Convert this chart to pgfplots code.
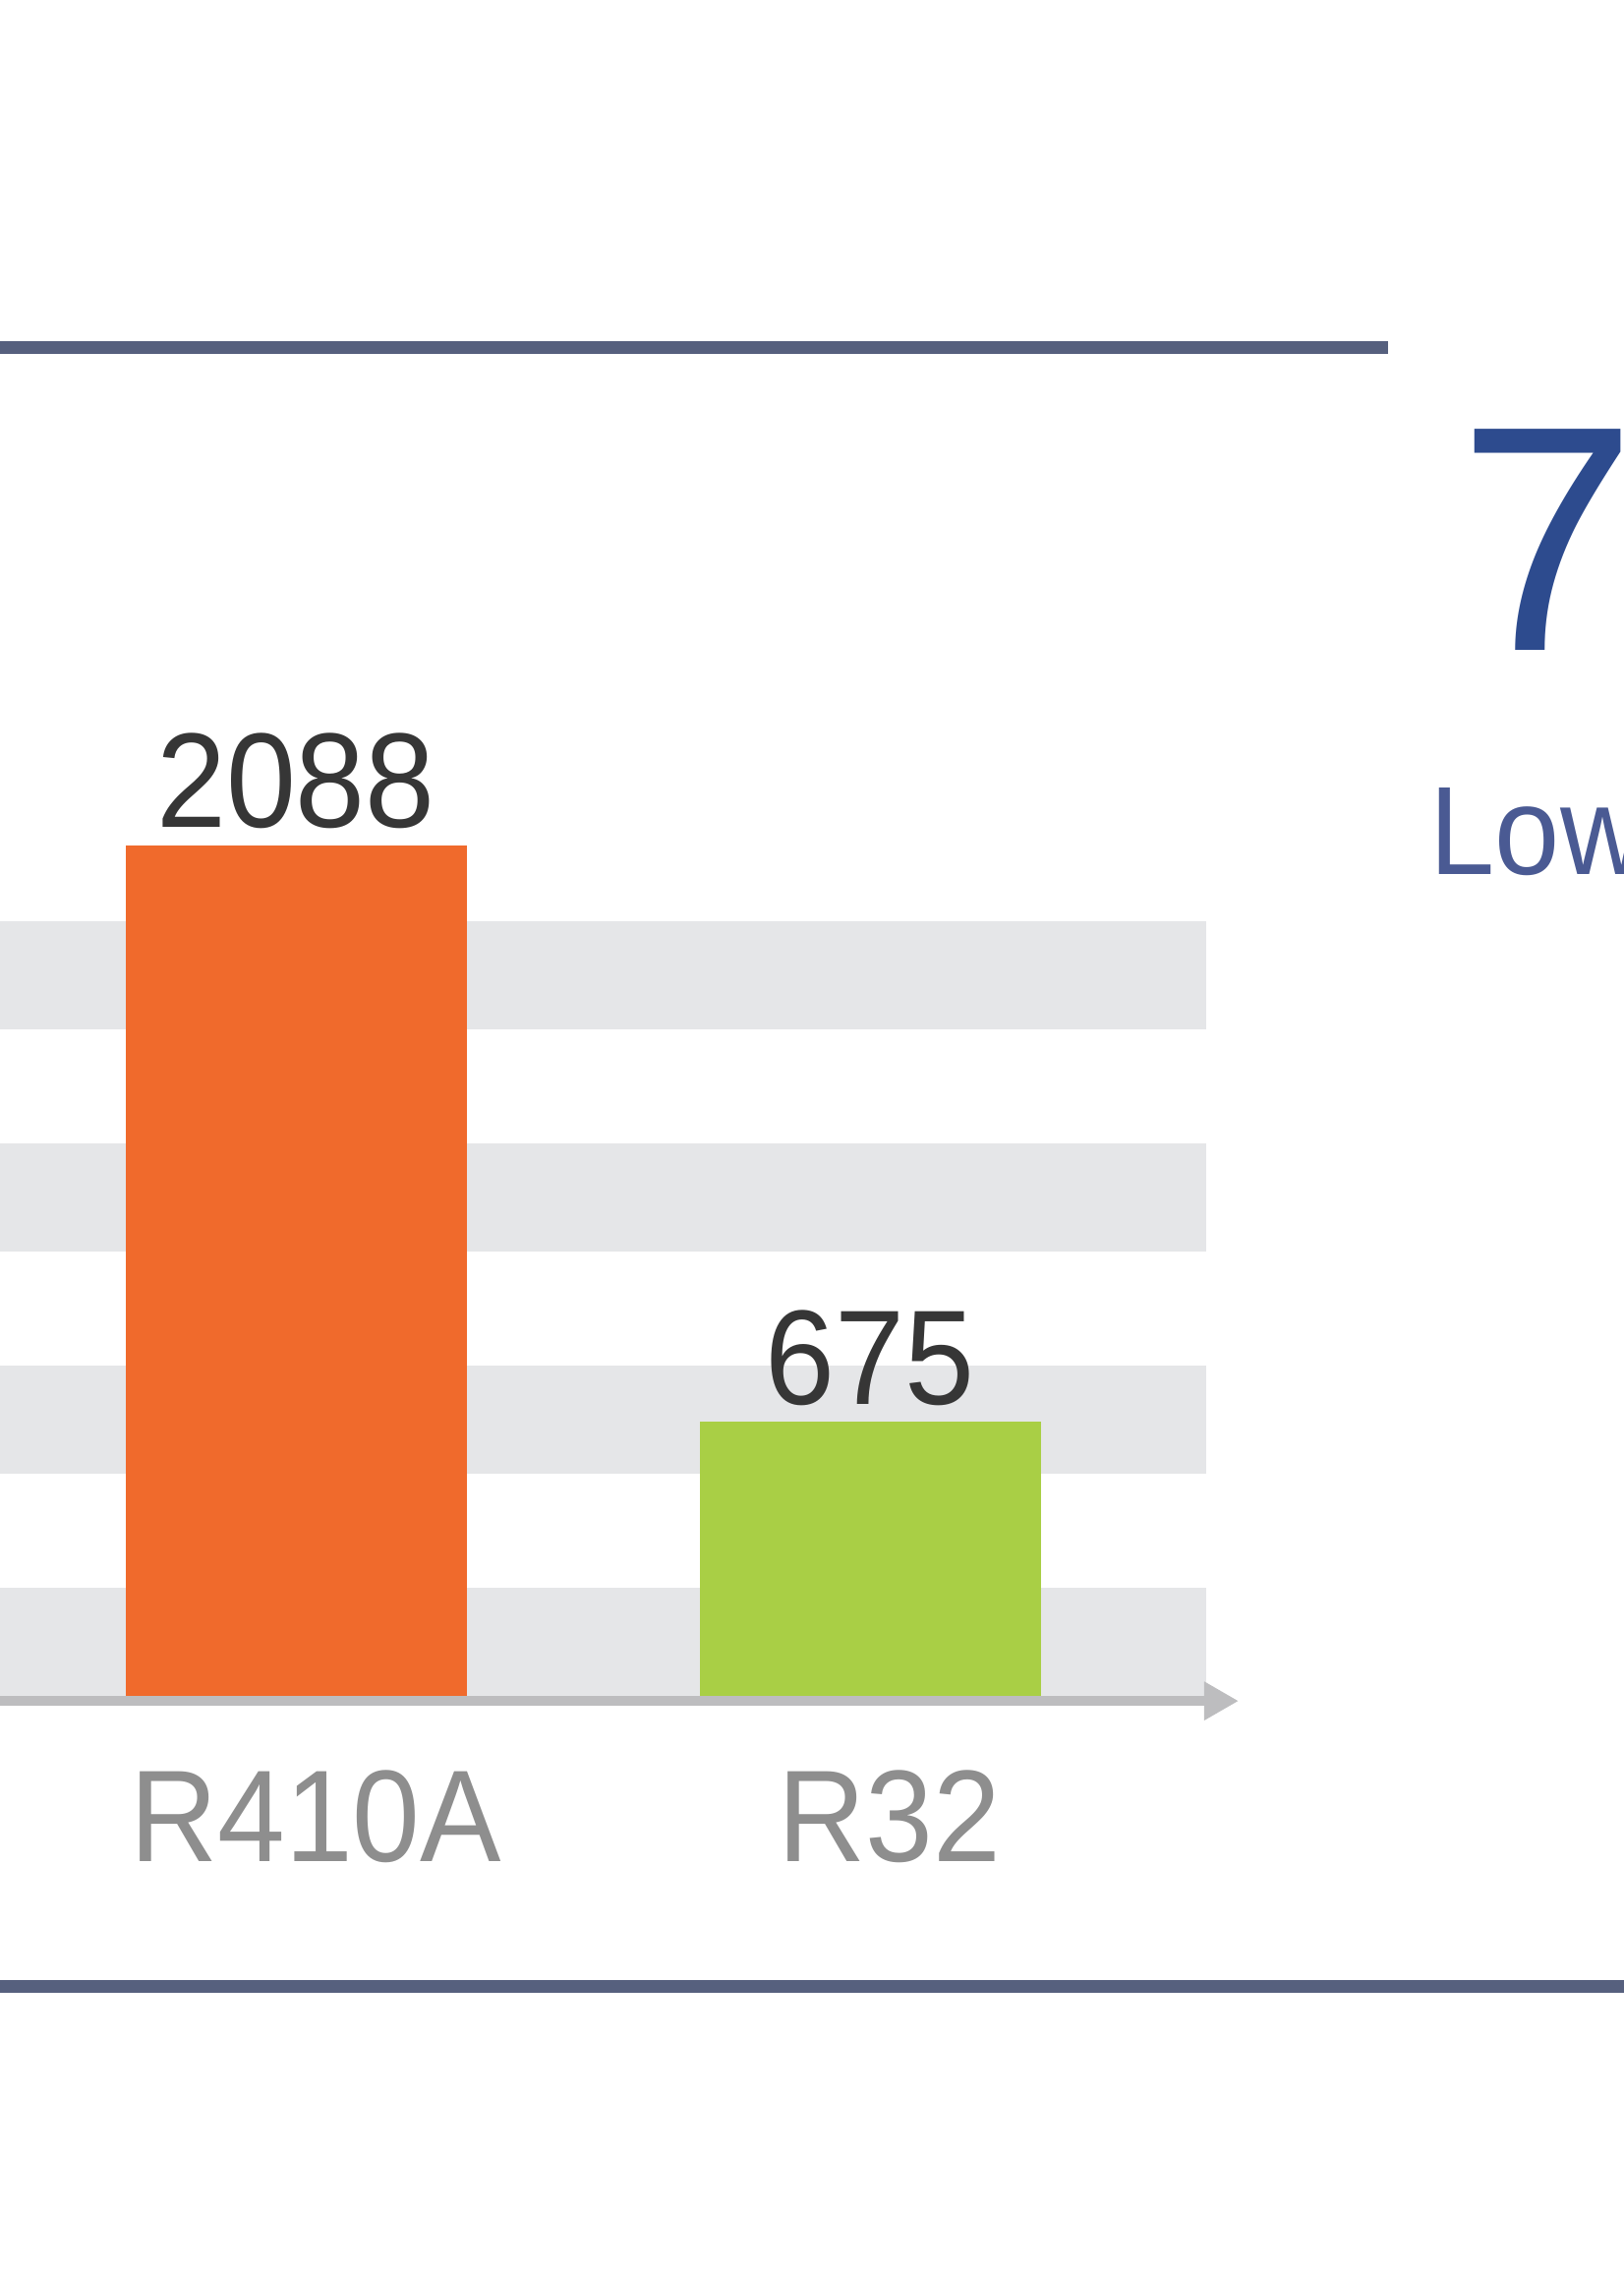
\documentclass[border=0pt]{standalone}
\usepackage{pgfplots}
\pgfplotsset{compat=1.18}
\usepackage{fontspec}
\setmainfont{Liberation Sans}[FakeStretch=0.93]
\newfontfamily\widefont{Liberation Sans}
\usetikzlibrary{arrows.meta}

\definecolor{barorange}{HTML}{F06A2C}
\definecolor{bargreen}{HTML}{A9CF45}
\definecolor{stripe}{HTML}{E5E6E8}
\definecolor{axisgray}{HTML}{BDBDBF}
\definecolor{rulecol}{HTML}{56607E}
\definecolor{bigblue}{HTML}{2D4B8E}
\definecolor{lowblue}{HTML}{4A5A93}
\definecolor{valtext}{HTML}{363636}
\definecolor{ticktext}{HTML}{8E8E8E}

\begin{document}
\begin{tikzpicture}
  \useasboundingbox (0,0) rectangle (165.2mm,231.3mm);
  \fill[white] (0,0) rectangle (165.2mm,231.3mm);

  % rules above and below the chart
  \draw[rulecol, line width=1.3mm] (0,195.9mm) -- (141.2mm,195.9mm);
  \draw[rulecol, line width=1.3mm] (0,29.2mm) -- (165.2mm,29.2mm);

  \begin{axis}[
      at={(0,58.7mm)}, anchor=south west,
      scale only axis, width=122.7mm, height=103.69mm,
      xmin=-0.5154, xmax=1.5856, ymin=0, ymax=2500,
      clip=false,
      axis line style={draw=none},
      tick style={draw=none},
      xtick={0,1}, xticklabels={R410A,R32},
      xticklabel style={anchor=north, inner sep=0pt, yshift=-5.9mm, xshift=2.0mm,
        text=ticktext, font=\fontsize{37.8pt}{40pt}\selectfont},
      ytick={134,679,1224,1769}, yticklabels={},
      ymajorgrids,
      major grid style={line width=11mm, color=stripe},
      ybar, bar width=34.7mm,
      /pgf/number format/1000 sep={},
      /pgf/number format/assume math mode=true,
      nodes near coords,
      every node near coord/.append style={anchor=base, inner sep=0pt, yshift=1.8mm,
        text=valtext, font=\fontsize{39pt}{41pt}\selectfont},
    ]
    \addplot[draw=none, fill=barorange, bar shift=0pt] coordinates {(0,2088)};
    \addplot[draw=none, fill=bargreen, bar shift=0pt] coordinates {(1,675)};
    \draw[axisgray, line width=1mm, -{Triangle[length=3.5mm,width=3.7mm]}]
      (axis cs:-0.5154,-10) -- (axis cs:1.642,-10);
  \end{axis}

  % side text, cut by the right edge as in the source
  \node[anchor=base west, inner sep=0pt, text=bigblue,
        font=\widefont\fontsize{93pt}{96pt}\selectfont] at (148.3mm,165.1mm) {7};
  \node[anchor=base west, inner sep=0pt, text=lowblue,
        font=\fontsize{36.4pt}{38pt}\selectfont] at (145.4mm,142.3mm) {Low};
\end{tikzpicture}
\end{document}
